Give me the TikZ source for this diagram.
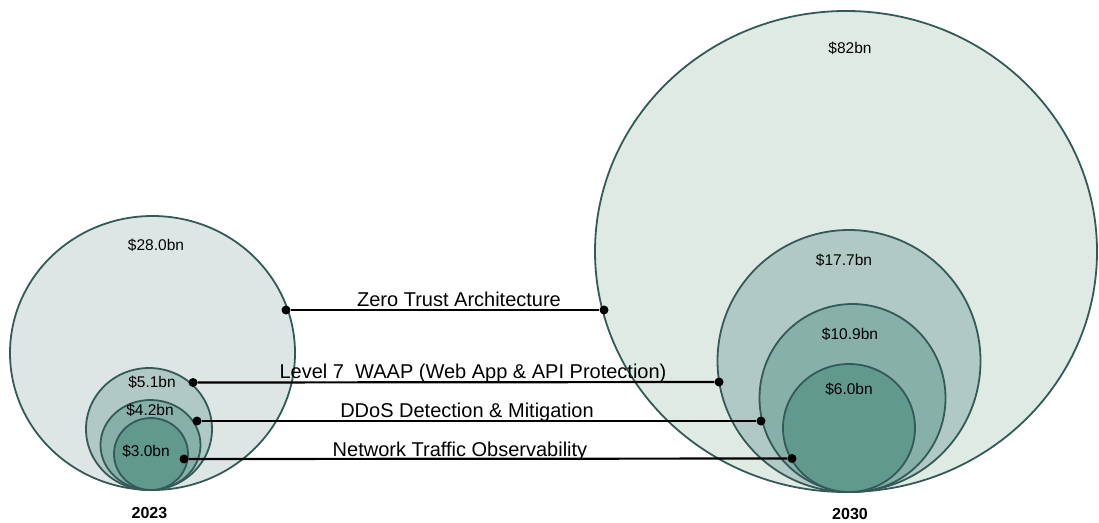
\documentclass[tikz,border=0pt]{standalone}
\usepackage{fontspec}
\setmainfont{Liberation Sans}
\usetikzlibrary{shapes.geometric}
\definecolor{ring}{RGB}{52,90,88}
\definecolor{c0L}{RGB}{221,230,229}
\definecolor{c0R}{RGB}{224,234,228}
\definecolor{c1}{RGB}{176,201,196}
\definecolor{c2}{RGB}{134,176,168}
\definecolor{c3}{RGB}{98,153,141}
\tikzset{
  bub/.style={ellipse, draw=ring, line width=1.8pt, inner sep=0pt},
  dot/.style={circle, fill=black, inner sep=0pt, minimum size=9pt},
  conn/.style={line width=2.2pt, black},
  val/.style={anchor=base, font=\fontsize{15.5}{18}\selectfont},
  lab/.style={anchor=base, font=\fontsize{20}{24}\selectfont},
  yr/.style={anchor=base, font=\fontsize{16}{19}\selectfont\bfseries},
}
\begin{document}
\begin{tikzpicture}[x=1pt,y=-1pt]
\useasboundingbox (0,0) rectangle (1099,522);
% left group
\node[bub, fill=c0L, minimum width=285pt, minimum height=274pt] (L0) at (152.5,353) {};
\node[bub, fill=c1, minimum width=126pt, minimum height=122pt] (L1) at (149,429) {};
\node[bub, fill=c2, minimum width=100pt, minimum height=90pt] (L2) at (150.5,445) {};
\node[bub, fill=c3, minimum width=74pt, minimum height=72pt] (L3) at (151,454) {};
% right group
\node[bub, fill=c0R, minimum width=502pt, minimum height=481pt] (R0) at (846,251.5) {};
\node[bub, fill=c1, minimum width=263pt, minimum height=262pt] (R1) at (849,361) {};
\node[bub, fill=c2, minimum width=186pt, minimum height=188pt] (R2) at (852.5,398) {};
\node[bub, fill=c3, minimum width=132pt, minimum height=128pt] (R3) at (849,428) {};
% value labels
\node[val] (v1) at (156,250) {\$28.0bn};
\node[val] (v2) at (152,387) {\$5.1bn};
\node[val] (v3) at (150,415) {\$4.2bn};
\node[val] (v4) at (146,456.5) {\$3.0bn};
\node[val] (v5) at (850,53) {\$82bn};
\node[val] (v6) at (844,265) {\$17.7bn};
\node[val] (v7) at (850,339) {\$10.9bn};
\node[val] (v8) at (849,394) {\$6.0bn};
% year labels
\node[yr] (y1) at (149.5,518) {2023};
\node[yr] (y2) at (850,519.5) {2030};
% dots
\node[dot] (zl) at (286,310) {};
\node[dot] (zr) at (604,310) {};
\node[dot] (wl) at (193,382.5) {};
\node[dot] (wr) at (719,382) {};
\node[dot] (dl) at (197,421) {};
\node[dot] (dr) at (761,421) {};
\node[dot] (nl) at (184,459) {};
\node[dot] (nr) at (792,458.5) {};
% connectors
\draw[conn] (zl) -- (zr);
\draw[conn] (wl) -- (wr);
\draw[conn] (dl) -- (dr);
\draw[conn] (nl) -- (nr);
% connector labels
\node[lab] (t1) at (459,306) {Zero Trust Architecture};
\node[lab] (t2) at (473,378.5) {Level 7\ \ WAAP (Web App \& API Protection)};
\node[lab] (t3) at (467,417) {DDoS Detection \& Mitigation};
\node[lab] (t4) at (460,456) {Network Traffic Observability};
\end{tikzpicture}
\end{document}
